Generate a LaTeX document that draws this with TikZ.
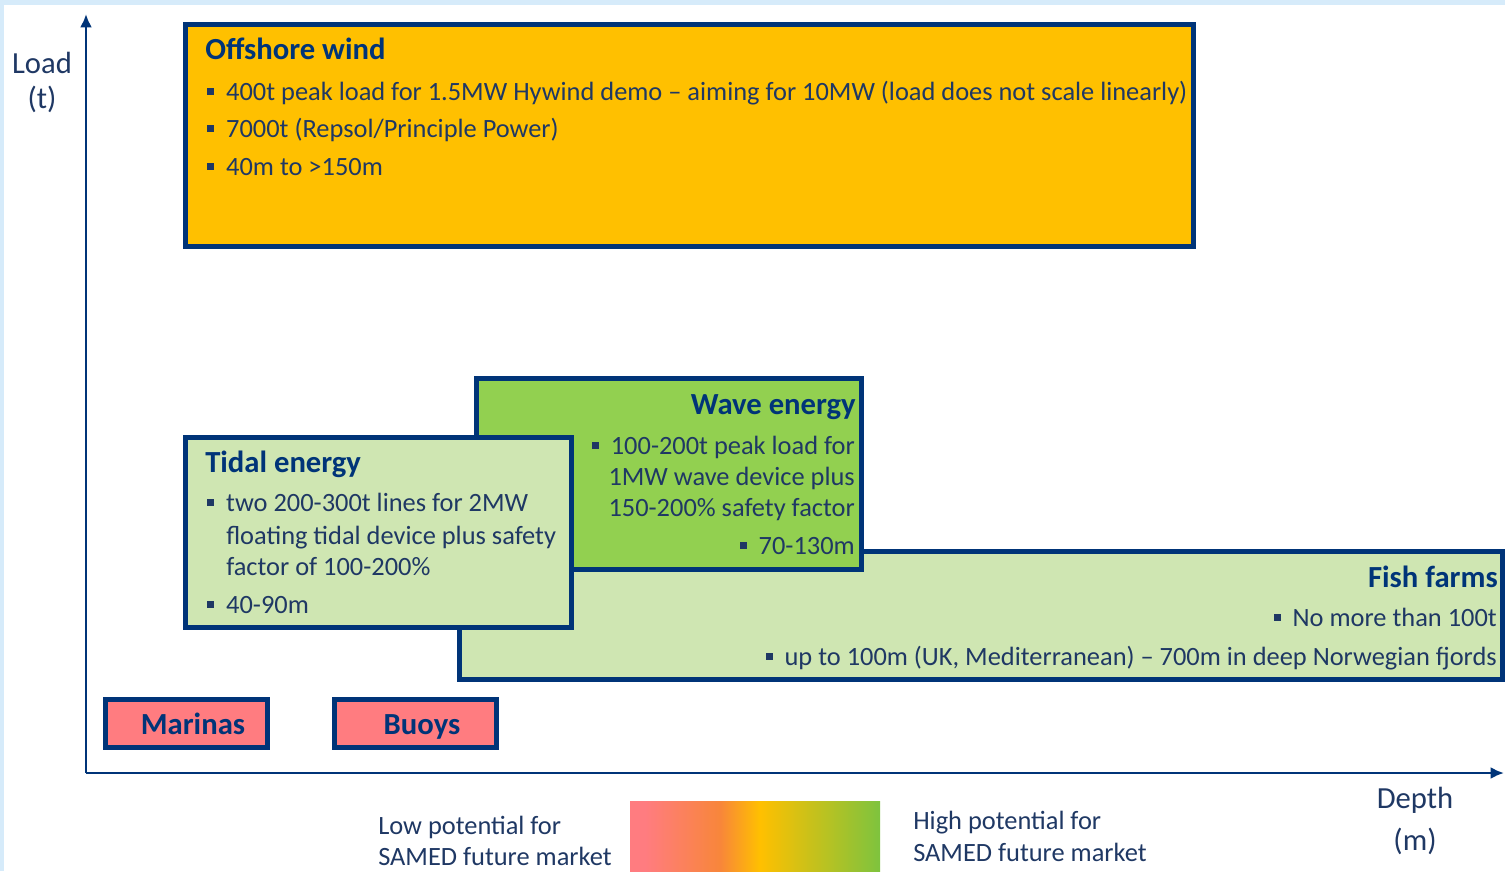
\documentclass[tikz,border=0pt]{standalone}
\usepackage{fontspec}
\setmainfont{Carlito}
\usetikzlibrary{arrows.meta}
\definecolor{navy}{RGB}{0,52,120}
\definecolor{ink}{RGB}{31,56,100}
\definecolor{windfill}{RGB}{255,192,0}
\definecolor{wavefill}{RGB}{146,208,80}
\definecolor{palegreen}{RGB}{207,230,178}
\definecolor{salmon}{RGB}{255,124,128}
\definecolor{frameblue}{RGB}{214,235,250}
\definecolor{midorange}{RGB}{248,134,58}
\definecolor{leafgreen}{RGB}{126,195,62}
\pgfdeclarehorizontalshading{potential}{100bp}{color(0bp)=(salmon); color(28bp)=(salmon);
  color(43bp)=(midorange); color(51bp)=(windfill); color(75bp)=(leafgreen); color(100bp)=(leafgreen)}
\newcommand{\bul}{\raisebox{0.2em}{\rule{5.2pt}{5.2pt}}\hspace{9pt}}
\begin{document}
\begin{tikzpicture}[x=0.75pt,y=-0.75pt,
  box/.style={draw=navy,line width=3.75pt},
  axis/.style={draw=navy,line width=2pt,-{Latex[length=10pt,width=9pt]}},
  txt/.style={inner sep=0pt,text=ink,font=\fontsize{19.8}{22}\selectfont},
  big/.style={inner sep=0pt,text=ink,font=\fontsize{23}{26}\selectfont},
  ttl/.style={inner sep=0pt,text=navy,font=\fontsize{23}{26}\selectfont\bfseries}]
\useasboundingbox (0,0) rectangle (1505,871);
\fill[frameblue] (0,0) rectangle (1505,871);
\fill[white] (4,5) rectangle (1505,871);
% axes
\coordinate (origin) at (86,773);
\coordinate (ytop) at (86,14);
\coordinate (xend) at (1504,773);
\draw[axis] (origin) -- (ytop);
\draw[axis] (origin) -- (xend);
\node[big,anchor=base] (load) at (42,73) {Load};
\node[big,anchor=base] (loadunit) at (42,108) {(t)};
\node[big,anchor=base] (depth) at (1415,808) {Depth};
\node[big,anchor=base] (depthunit) at (1415,850) {(m)};
% offshore wind
\filldraw[box,fill=windfill] (185.5,24.5) rectangle (1193.5,246.5);
\node[ttl,anchor=base west] (windtitle) at (205,59) {Offshore wind};
\node[txt,anchor=base west] (wind1) at (207,100) {\bul400t peak load for 1.5MW Hywind demo -- aiming for 10MW (load does not scale linearly)};
\node[txt,anchor=base west] (wind2) at (207,137) {\bul7000t (Repsol/Principle Power)};
\node[txt,anchor=base west] (wind3) at (207,175) {\bul40m to >150m};
% fish farms
\filldraw[box,fill=palegreen] (459.5,551.5) rectangle (1502.5,679.5);
\node[ttl,anchor=base east] (fishtitle) at (1498,587) {Fish farms};
\node[txt,anchor=base east] (fish1) at (1497,626) {\bul No more than 100t};
\node[txt,anchor=base east] (fish2) at (1497,665) {\bul up to 100m (UK, Mediterranean) -- 700m in deep Norwegian fjords};
% wave energy
\filldraw[box,fill=wavefill] (476.5,378.5) rectangle (861.5,569.5);
\node[ttl,anchor=base east] (wavetitle) at (856,414) {Wave energy};
\node[txt,anchor=base east] (wave1) at (855,454) {\bul100-200t peak load for};
\node[txt,anchor=base east] (wave2) at (855,485) {1MW wave device plus};
\node[txt,anchor=base east] (wave3) at (855,516) {150-200\% safety factor};
\node[txt,anchor=base east] (wave4) at (855,554) {\bul70-130m};
% tidal energy
\filldraw[box,fill=palegreen] (185.5,437.5) rectangle (571.5,627.5);
\node[ttl,anchor=base west] (tidaltitle) at (205,472) {Tidal energy};
\node[txt,anchor=base west] (tidal1) at (207,511) {\bul two 200-300t lines for 2MW};
\node[txt,anchor=base west] (tidal2) at (226,544) {floating tidal device plus safety};
\node[txt,anchor=base west] (tidal3) at (226,575) {factor of 100-200\%};
\node[txt,anchor=base west] (tidal4) at (207,613) {\bul40-90m};
% marinas, buoys
\filldraw[box,fill=salmon] (105.5,699.5) rectangle (267.5,747.5);
\node[ttl,anchor=base] (marinas) at (193,734) {Marinas};
\filldraw[box,fill=salmon] (334.5,699.5) rectangle (496.5,747.5);
\node[ttl,anchor=base] (buoys) at (422,734) {Buoys};
% legend
\shade[shading=potential] (630,801) rectangle (880,871);
\node[txt,anchor=base west] (low1) at (378,834) {Low potential for};
\node[txt,anchor=base west] (low2) at (378,865) {SAMED future market};
\node[txt,anchor=base west] (high1) at (913,829) {High potential for};
\node[txt,anchor=base west] (high2) at (913,861) {SAMED future market};
\end{tikzpicture}
\end{document}
